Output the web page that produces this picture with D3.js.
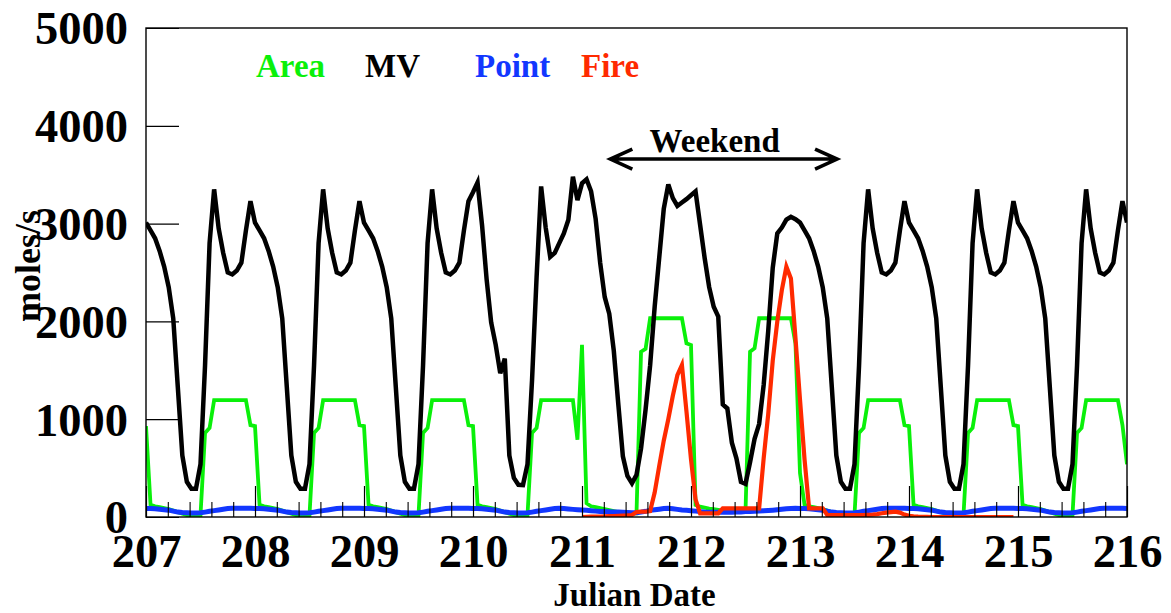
<!DOCTYPE html>
<html>
<head>
<meta charset="utf-8">
<script src="https://cdn.jsdelivr.net/npm/d3@7"></script>
<style>
  html, body { margin: 0; padding: 0; background: #fff; }
  svg { display: block; }
</style>
</head>
<body>
<svg id="chart" width="1171" height="613"></svg>
<script>
// Hourly emission rates (moles/s), Julian days 207-216.
const startDay = 207;
const xTicks = [207, 208, 209, 210, 211, 212, 213, 214, 215, 216];
const yTicks = [0, 1000, 2000, 3000, 4000, 5000];
const seriesNames = ["Area", "MV", "Point", "Fire"];

// Mobile vehicle (MV) emissions, one row per day (24 hourly values), plus the 216.0 endpoint
const mv = [
  3010, 2930, 2850, 2720, 2560, 2350, 2030, 1330, 630, 360, 290, 290, 540, 1550, 2800, 3350, 2950, 2700, 2500, 2480, 2520, 2600, 2930, 3230, // 207
  3010, 2930, 2850, 2720, 2560, 2350, 2030, 1330, 630, 360, 290, 290, 540, 1550, 2800, 3350, 2950, 2700, 2500, 2480, 2520, 2600, 2930, 3230, // 208
  3010, 2930, 2850, 2720, 2560, 2350, 2030, 1330, 630, 360, 290, 290, 540, 1550, 2800, 3350, 2950, 2700, 2500, 2480, 2520, 2600, 2930, 3230, // 209
  3320, 3420, 2980, 2430, 1990, 1760, 1470, 1620, 630, 400, 330, 327, 540, 1400, 2450, 3380, 2960, 2660, 2700, 2800, 2900, 3040, 3480, 3240, // 210
  3412, 3453, 3330, 3050, 2600, 2250, 2080, 1700, 1150, 620, 420, 345, 430, 700, 1100, 1550, 2150, 2650, 3150, 3400, 3260, 3180, 3215, 3250, // 211
  3290, 3330, 2990, 2650, 2350, 2150, 2050, 1150, 1110, 760, 600, 360, 340, 560, 800, 950, 1350, 1900, 2550, 2900, 2960, 3040, 3070, 3045, // 212
  3010, 2930, 2850, 2720, 2560, 2350, 2030, 1330, 630, 360, 290, 290, 540, 1550, 2800, 3350, 2950, 2700, 2500, 2480, 2520, 2600, 2930, 3230, // 213
  3010, 2930, 2850, 2720, 2560, 2350, 2030, 1330, 630, 360, 290, 290, 540, 1550, 2800, 3350, 2950, 2700, 2500, 2480, 2520, 2600, 2930, 3230, // 214
  3010, 2930, 2850, 2720, 2560, 2350, 2030, 1330, 630, 360, 290, 290, 540, 1550, 2800, 3350, 2950, 2700, 2500, 2480, 2520, 2600, 2930, 3230, // 215
  3010 // 216
];

// Area-source emissions
const area = [
  930, 125, 110, 100, 90, 80, 65, 50, 35, 20, 20, 20, 20, 860, 910, 1195, 1195, 1195, 1195, 1195, 1195, 1195, 1195, 940, // 207
  930, 125, 110, 100, 90, 80, 65, 50, 35, 20, 20, 20, 20, 860, 910, 1195, 1195, 1195, 1195, 1195, 1195, 1195, 1195, 940, // 208
  930, 125, 110, 100, 90, 80, 65, 50, 35, 20, 20, 20, 20, 860, 910, 1195, 1195, 1195, 1195, 1195, 1195, 1195, 1195, 940, // 209
  930, 125, 110, 100, 90, 80, 65, 50, 35, 20, 20, 20, 20, 860, 910, 1195, 1195, 1195, 1195, 1195, 1195, 1195, 1195, 790, // 210
  1760, 140, 110, 100, 90, 80, 70, 60, 50, 45, 40, 38, 38, 1690, 1720, 2032, 2032, 2032, 2032, 2032, 2032, 2032, 2032, 1776, // 211
  1759, 123, 105, 95, 85, 80, 72, 65, 60, 57, 55, 55, 55, 1690, 1725, 2032, 2032, 2032, 2032, 2032, 2032, 2032, 2032, 1776, // 212
  450, 125, 110, 100, 90, 80, 65, 50, 35, 20, 20, 20, 20, 860, 910, 1195, 1195, 1195, 1195, 1195, 1195, 1195, 1195, 940, // 213
  930, 125, 110, 100, 90, 80, 65, 50, 35, 20, 20, 20, 20, 860, 910, 1195, 1195, 1195, 1195, 1195, 1195, 1195, 1195, 940, // 214
  930, 125, 110, 100, 90, 80, 65, 50, 35, 20, 20, 20, 20, 860, 910, 1195, 1195, 1195, 1195, 1195, 1195, 1195, 1195, 940, // 215
  540 // 216
];

// Point-source emissions
const point = [
  88, 87, 85, 80, 75, 70, 60, 50, 45, 43, 42, 42, 43, 50, 58, 65, 72, 80, 86, 89, 90, 90, 90, 89, // 207
  88, 87, 85, 80, 75, 70, 60, 50, 45, 43, 42, 42, 43, 50, 58, 65, 72, 80, 86, 89, 90, 90, 90, 89, // 208
  88, 87, 85, 80, 75, 70, 60, 50, 45, 43, 42, 42, 43, 50, 58, 65, 72, 80, 86, 89, 90, 90, 90, 89, // 209
  88, 87, 85, 80, 75, 70, 60, 50, 45, 43, 42, 42, 43, 50, 58, 65, 72, 80, 86, 89, 86, 82, 78, 75, // 210
  72, 68, 64, 60, 56, 55, 54, 52, 50, 48, 46, 44, 44, 50, 58, 68, 74, 80, 86, 89, 84, 78, 72, 68, // 211
  64, 60, 55, 50, 48, 48, 48, 48, 48, 48, 50, 52, 55, 57, 59, 61, 63, 66, 70, 75, 80, 84, 87, 89, // 212
  88, 87, 85, 80, 75, 70, 60, 50, 45, 43, 42, 42, 43, 50, 58, 65, 72, 80, 86, 89, 90, 90, 90, 89, // 213
  88, 87, 85, 80, 75, 70, 60, 50, 45, 43, 42, 42, 43, 50, 58, 65, 72, 80, 86, 89, 90, 90, 90, 89, // 214
  88, 87, 85, 80, 75, 70, 60, 50, 45, 43, 42, 42, 43, 50, 58, 65, 72, 80, 86, 89, 90, 90, 90, 89, // 215
  88 // 216
];

// Fire emissions, available from day 211.0 to 214.958
const fireStart = 211;
const fire = [
  0, 2, 3, 4, 5, 6, 8, 10, 12, 14, 16, 20, 50, 55, 55, 60, 250, 520, 780, 1000, 1240, 1450, 1554, 1080, // 211
  590, 180, 38, 38, 38, 38, 38, 89, 89, 89, 89, 89, 89, 89, 89, 89, 600, 1050, 1600, 2000, 2320, 2560, 2440, 1830, // 212
  1200, 590, 89, 89, 89, 89, 20, 20, 20, 20, 20, 20, 20, 20, 20, 22, 25, 30, 38, 45, 50, 55, 45, 25, // 213
  12, 6, 3, 2, 1, 0, 0, 0, 0, 0, 0, 0, 0, 0, 0, 0, 0, 0, 0, 0, 0, 0, 0, 0 // 214
];

// Weekend span (days) and the arrow's height on the value axis
const weekendSpan = [211.26, 213.34];
const weekendLevel = 3660;

// ---- drawing ----
const serif = '"Liberation Serif", "Times New Roman", Times, serif';
const colors = { Area: "#0af00a", MV: "#000000", Point: "#1237ff", Fire: "#ff2a00" };
const widths = { Area: 3.8, MV: 4.5, Point: 5, Fire: 4.2 };

const svg = d3.select("#chart");
const plot = { left: 146, right: 1127, top: 28, bottom: 517 };

const x = d3.scaleLinear().domain([xTicks[0], xTicks[xTicks.length - 1]]).range([plot.left, plot.right]);
const y = d3.scaleLinear().domain([yTicks[0], yTicks[yTicks.length - 1]]).range([plot.bottom, plot.top]);

svg.append("defs").append("clipPath").attr("id", "plot-clip")
  .append("rect")
  .attr("x", plot.left).attr("y", plot.top)
  .attr("width", plot.right - plot.left).attr("height", plot.bottom - plot.top);

// series lines
const seriesData = {
  Area: area.map((v, i) => [startDay + i / 24, v]),
  MV: mv.map((v, i) => [startDay + i / 24, v]),
  Point: point.map((v, i) => [startDay + i / 24, v]),
  Fire: fire.map((v, i) => [fireStart + i / 24, v])
};
const line = d3.line().x(d => x(d[0])).y(d => y(d[1]));
const linesG = svg.append("g").attr("clip-path", "url(#plot-clip)");
seriesNames.forEach(name => {
  linesG.append("path")
    .datum(seriesData[name])
    .attr("fill", "none")
    .attr("stroke", colors[name])
    .attr("stroke-width", widths[name])
    .attr("stroke-linejoin", "miter")
    .attr("stroke-miterlimit", 4)
    .attr("d", line);
});

// frame
svg.append("rect")
  .attr("x", plot.left).attr("y", plot.top)
  .attr("width", plot.right - plot.left).attr("height", plot.bottom - plot.top)
  .attr("fill", "none").attr("stroke", "#000").attr("stroke-width", 1.4);

// y axis: inward ticks, large bold labels
const gy = svg.append("g")
  .attr("transform", `translate(${plot.left},0)`)
  .call(d3.axisLeft(y).tickValues(yTicks).tickSizeInner(-33).tickSizeOuter(0).tickPadding(18).tickFormat(d3.format("d")));
gy.select(".domain").remove();
gy.attr("font-family", serif).attr("font-size", 46.5).attr("font-weight", "bold");
gy.selectAll(".tick line").attr("stroke", "#000").attr("stroke-width", 1.2);
gy.selectAll(".tick text").attr("fill", "#000").attr("dy", "0.34em");

// x axis: minor ticks every 0.2 day
const minorTicks = d3.range(0, (xTicks.length - 1) * 5 + 1)
  .filter(i => i % 5 !== 0)
  .map(i => xTicks[0] + i / 5);
const gxMinor = svg.append("g")
  .attr("transform", `translate(0,${plot.bottom})`)
  .call(d3.axisBottom(x).tickValues(minorTicks).tickSizeInner(-15).tickSizeOuter(0).tickFormat(""));
gxMinor.select(".domain").remove();
gxMinor.selectAll(".tick line").attr("stroke", "#000").attr("stroke-width", 1.1);

// x axis: major ticks and day labels
const gx = svg.append("g")
  .attr("transform", `translate(0,${plot.bottom})`)
  .call(d3.axisBottom(x).tickValues(xTicks).tickSizeInner(-31).tickSizeOuter(0).tickPadding(17).tickFormat(d3.format("d")));
gx.select(".domain").remove();
gx.attr("font-family", serif).attr("font-size", 46.5).attr("font-weight", "bold");
gx.selectAll(".tick line").attr("stroke", "#000").attr("stroke-width", 1.2);
gx.selectAll(".tick text").attr("fill", "#000");

// axis titles
svg.append("text")
  .attr("x", (plot.left + plot.right) / 2 - 2).attr("y", 606)
  .attr("text-anchor", "middle")
  .attr("font-family", serif).attr("font-weight", "bold").attr("font-size", 33)
  .text("Julian Date");

svg.append("text")
  .attr("transform", "translate(40,266) rotate(-90)")
  .attr("text-anchor", "middle")
  .attr("font-family", serif).attr("font-weight", "bold").attr("font-size", 36)
  .text("moles/s");

// legend
const legendX = [256, 365, 475, 581];
svg.append("g").selectAll("text")
  .data(seriesNames)
  .join("text")
  .attr("x", (d, i) => legendX[i]).attr("y", 77)
  .attr("font-family", serif).attr("font-weight", "bold").attr("font-size", 33)
  .attr("fill", d => colors[d])
  .text(d => d);

// weekend arrow
const ax0 = x(weekendSpan[0]), ax1 = x(weekendSpan[1]), ay = y(weekendLevel);
const head = 22, half = 10;
svg.append("path")
  .attr("d", `M${ax0},${ay}H${ax1}` +
             `M${ax0 + head},${ay - half}L${ax0},${ay}L${ax0 + head},${ay + half}` +
             `M${ax1 - head},${ay - half}L${ax1},${ay}L${ax1 - head},${ay + half}`)
  .attr("fill", "none").attr("stroke", "#000").attr("stroke-width", 3.6)
  .attr("stroke-linejoin", "miter");
svg.append("text")
  .attr("x", (ax0 + ax1) / 2 - 9).attr("y", ay - 7)
  .attr("text-anchor", "middle")
  .attr("font-family", serif).attr("font-weight", "bold").attr("font-size", 33)
  .text("Weekend");
</script>
</body>
</html>
